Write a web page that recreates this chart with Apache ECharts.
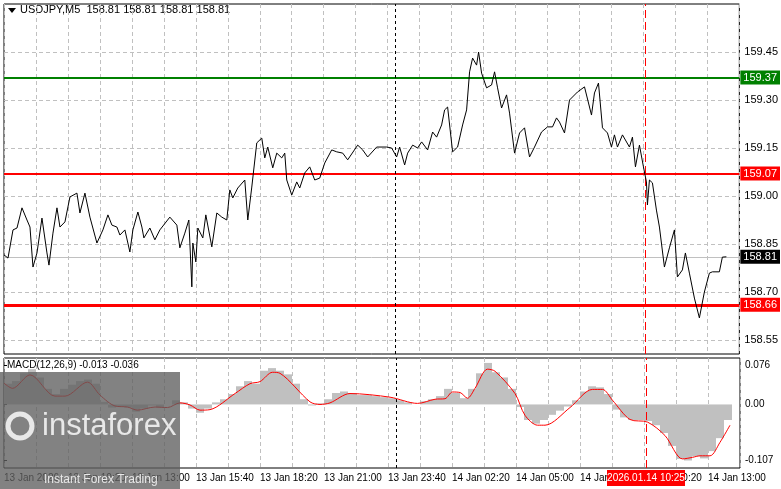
<!DOCTYPE html>
<html><head><meta charset="utf-8">
<script src="https://cdn.jsdelivr.net/npm/echarts@6/dist/echarts.min.js"></script>
<style>html,body{margin:0;padding:0;background:#fff}#c{width:781px;height:489px}</style>
</head><body><div id="c"></div>
<script>
// price path: [5-minute bar index from 13 Jan 07:40, price]
const pricePath = [
[0,158.816],[2,158.806],[4.5,158.894],[6.5,158.900],[9,158.963],[11.5,158.925],[13,158.903],[14.5,158.778],[16.5,158.822],[19,158.931],
[21.5,158.822],[22.5,158.784],[24.5,158.884],[26.5,158.963],[28,158.903],[30.5,158.919],[33,158.997],[36.5,159.009],[38,158.947],[40.5,159.009],
[43,158.934],[46.5,158.853],[49.5,158.894],[52,158.941],[54,158.909],[56.5,158.903],[58,158.878],[60.5,158.894],[63,158.825],[64.5,158.894],
[67,158.950],[69,158.903],[70,158.869],[73,158.900],[75.5,158.863],[78,158.894],[83,158.934],[86.5,158.909],[88,158.838],[90.5,158.884],
[92.5,158.925],[94,158.716],[94.5,158.853],[96,158.794],[97,158.900],[99.5,158.869],[101,158.941],[104,158.841],[106.5,158.947],[109,158.934],
[111.5,158.925],[113,159.019],[114.5,158.994],[117,159.025],[120.5,159.050],[122,158.925],[124,159.028],[126.5,159.166],[129,159.181],[130.5,159.119],
[132,159.153],[134.5,159.088],[136.5,159.134],[139,159.119],[140.5,159.134],[141.5,159.050],[144,159.003],[146.5,159.044],[148,159.025],[150.5,159.072],
[153,159.091],[155.5,159.050],[158,159.056],[160.5,159.103],[164,159.144],[166.5,159.138],[169.5,159.134],[172,159.113],[177,159.159],[179.5,159.144],
[182,159.122],[186.5,159.153],[191.5,159.153],[194,159.150],[196.5,159.122],
[198,159.153],[200.5,159.097],[202,159.134],[204.5,159.159],[207,159.150],[209,159.169],[212,159.144],[214.5,159.200],[216.5,159.184],[219,159.222],
[220.5,159.269],[222,159.278],[224.5,159.138],[227,159.153],[229.5,159.222],[231.5,159.269],[233,159.388],[234.5,159.431],[236.5,159.409],[237.5,159.450],
[239,159.384],[241.5,159.338],[244,159.347],[245.5,159.388],[247,159.338],[249,159.275],[251.5,159.316],[253,159.259],[255.5,159.134],[258,159.197],
[260.5,159.213],[263,159.122],[265.5,159.153],[269,159.200],[272,159.216],[274.5,159.216],[276.5,159.244],[278,159.231],[280.5,159.197],[283,159.300],
[287,159.325],[290.5,159.341],[294,159.253],[295.5,159.322],[297.5,159.353],[299.5,159.213],[302,159.197],[304,159.153],[305.5,159.191],[307,159.153],
[309.5,159.191],[313,159.153],[314.5,159.184],[316,159.091],[318,159.159],[320,159.091],[321.5,159.044],[322,158.972],[323,159.050],[324.5,159.041],
[326.5,158.956],[328,158.903],[330.5,158.778],[333,158.838],[335.5,158.894],[337,158.747],[339.5,158.769],[341,158.822],[343,158.759],[345.5,158.681],
[348,158.619],[350.5,158.700],[353,158.759],[354.5,158.763],[358,158.763],[359.5,158.809],[361.5,158.810]
];
// MACD histogram, one value per 4 bars (centred at 4i+2)
const macdHist = [0.040,0.045,0.060,0.068,0.052,0.030,0.020,0.030,0.038,0.045,
0.048,0.040,0.005,-0.006,-0.004,-0.006,-0.014,-0.008,-0.002,-0.006,
0.000,0.008,0.004,-0.008,-0.016,-0.008,0.004,0.010,0.020,0.035,
0.045,0.040,0.065,0.070,0.065,0.058,0.040,0.010,-0.002,0.002,
0.010,0.022,0.025,0.022,0.018,0.018,0.016,0.014,0.012,0.008,
0.004,0.000,0.006,0.010,0.016,0.030,0.022,0.012,0.030,0.060,
0.080,0.062,0.052,0.030,-0.005,-0.030,-0.037,-0.030,-0.020,-0.012,
-0.004,0.008,0.025,0.035,0.033,0.020,-0.010,-0.025,-0.030,-0.030,
-0.032,-0.040,-0.055,-0.080,-0.105,-0.108,-0.100,-0.104,-0.090,-0.065,-0.030];
const macdSignal = [[0,0.041],[4.25,0.031],[13,0.057],[25.5,0.016],[30.5,0.016],[41.75,0.043],[48,0.018],[55.5,-0.003],[61.75,-0.005],[66.75,-0.011],
[75.5,-0.005],[81.75,-0.006],[88,0.003],[93,-0.001],[98,-0.011],[103,-0.010],[115.5,0.021],[123,0.040],[128,0.044],[134.25,0.062],
[138,0.060],[153,0.005],[158,0.000],[163,0.003],[173,0.021],[193,0.014],[206.75,0.002],[215.5,0.010],[220.5,0.011],[224.25,0.024],
[228,0.023],[231.75,0.012],[235.5,0.031],[241.75,0.068],[245.5,0.064],[255.5,0.021],[260.5,-0.021],[266.75,-0.040],[270.5,-0.040],[283,-0.006],
[294.25,0.029],[299.25,0.029],[304.25,0.008],[313,-0.029],[321.75,-0.034],[330.5,-0.060],[339.25,-0.105],[344.25,-0.102],[348,-0.099],[353,-0.099],
[358,-0.073],[363,-0.040]];
const priceTicks = [158.55,158.70,158.85,159.00,159.15,159.30,159.45];
const macdTicks = [-0.107,0,0.076];
const levels = {green:159.37, red1:159.07, red2:158.66, last:158.81};
const daySepBar = 196, markerBar = 321;
const startMinutes = 7*60+40; // 13 Jan 07:40

function timeLabel(b){
  if (b % 32 !== 0) return '';
  if (b === 0) return '13 Jan 2026';
  const t = startMinutes + b*5, day = 13 + Math.floor(t/1440), m = t%1440;
  return day+' Jan '+String(Math.floor(m/60)).padStart(2,'0')+':'+String(m%60).padStart(2,'0');
}
const font = 'Liberation Sans';
const lvlLabel = (bg, fg) => ({show:true, position:'end', distance:1, formatter: p=>p.value.toFixed(2),
  backgroundColor:bg, color:fg, padding:[2,3,1,3], fontSize:11, fontFamily:font});
const chart = echarts.init(document.getElementById('c'));
chart.setOption({
  animation:false,
  textStyle:{fontFamily:font},
  grid:[{left:4,right:41,top:4,height:350,show:true,borderColor:'#000',borderWidth:1},
        {left:4,right:41,top:358,height:110,show:true,borderColor:'#000',borderWidth:1}],
  xAxis:[
    {gridIndex:0,type:'value',min:0,max:368,interval:16,axisLabel:{show:false},axisTick:{show:false},axisLine:{show:false},
     splitLine:{show:true,lineStyle:{color:'#c0c0c0',type:[4,3]}}},
    {gridIndex:1,type:'value',min:0,max:368,interval:16,axisLine:{show:false},axisTick:{show:false},
     axisLabel:{formatter:timeLabel,align:'left',color:'#000',fontSize:10,margin:5,showMaxLabel:false,hideOverlap:false},
     splitLine:{show:true,lineStyle:{color:'#c0c0c0',type:[4,3]}}}
  ],
  yAxis:[
    {gridIndex:0,type:'value',position:'right',min:158.50625,max:159.6,axisLine:{show:false},
     axisTick:{show:true,customValues:priceTicks,length:3,lineStyle:{color:'#000'}},
     axisLabel:{customValues:priceTicks,formatter:v=>v.toFixed(2),color:'#000',fontSize:11,margin:5},splitLine:{show:false}},
    {gridIndex:1,type:'value',position:'right',min:-0.1225,max:0.0895,axisLine:{show:false},
     axisTick:{show:true,customValues:macdTicks,length:3,lineStyle:{color:'#000'}},
     axisLabel:{customValues:macdTicks,formatter:v=>v===0?'0.00':String(v),color:'#000',fontSize:10,margin:5},splitLine:{show:false}}
  ],
  series:[
    {type:'line',xAxisIndex:0,yAxisIndex:0,data:pricePath,symbol:'none',lineStyle:{color:'#000',width:1},z:5,
     markLine:{symbol:'none',silent:true,animation:false,data:[
       ...priceTicks.map(v=>({yAxis:v,lineStyle:{color:'#c0c0c0',type:[4,3],width:1},label:{show:false}})),
       {yAxis:levels.last,lineStyle:{color:'#c0c0c0',type:'solid',width:1},label:lvlLabel('#000','#fff')},
       {yAxis:levels.green,lineStyle:{color:'#008000',type:'solid',width:2},label:lvlLabel('#008000','#fff')},
       {yAxis:levels.red1,lineStyle:{color:'#ff0000',type:'solid',width:2},label:lvlLabel('#ff0000','#fff')},
       {yAxis:levels.red2,lineStyle:{color:'#ff0000',type:'solid',width:3},label:lvlLabel('#ff0000','#fff')},
       {xAxis:daySepBar,lineStyle:{color:'#000',type:[3,3],width:1},label:{show:false}},
       {xAxis:markerBar,lineStyle:{color:'#ff0000',type:[8,4],width:1},label:{show:false}}
     ]}},
    {type:'bar',xAxisIndex:1,yAxisIndex:1,data:macdHist.map((v,i)=>[4*i+2,v]),barWidth:8,itemStyle:{color:'#c0c0c0'},
     markLine:{symbol:'none',silent:true,label:{show:false},data:[
       {xAxis:daySepBar,lineStyle:{color:'#000',type:[3,3],width:1}},
       {xAxis:markerBar,lineStyle:{color:'#ff0000',type:[8,4],width:1}}]}},
    {type:'line',xAxisIndex:1,yAxisIndex:1,data:macdSignal,symbol:'none',smooth:0.3,lineStyle:{color:'#ff0000',width:1},z:5}
  ],
  graphic:[
    {type:'polygon',shape:{points:[[8,8],[16,8],[12,13]]},style:{fill:'#000'}},
    {type:'text',left:20,top:4,style:{text:'USDJPY,M5  158.81 158.81 158.81 158.81',fontSize:11,fontFamily:font,fill:'#000'}},
    {type:'text',left:7,top:360,style:{text:'MACD(12,26,9) -0.013 -0.036',fontSize:10,fontFamily:font,fill:'#000'}},
    {type:'rect',shape:{x:607,y:470,width:78,height:16},style:{fill:'#ff0000'},z:20},
    {type:'text',x:646,y:478,style:{text:'2026.01.14 10:25',fontSize:10,fontFamily:font,fill:'#fff',align:'center',verticalAlign:'middle'},z:21},
    {type:'rect',shape:{x:0,y:372,width:180,height:117},style:{fill:'rgba(95,95,95,0.78)'},z:30},
    {type:'circle',shape:{cx:20,cy:426,r:12},style:{fill:'none',stroke:'#e8e8e8',lineWidth:5},z:31},
    {type:'text',x:42,y:426,style:{text:'instaforex',fontSize:31,fontFamily:font,fill:'#e8e8e8',verticalAlign:'middle'},z:31},
    {type:'text',x:44,y:480,style:{text:'Instant Forex Trading',fontSize:12,fontFamily:font,fill:'#e8e8e8',verticalAlign:'middle'},z:31}
  ]
});
</script></body></html>
